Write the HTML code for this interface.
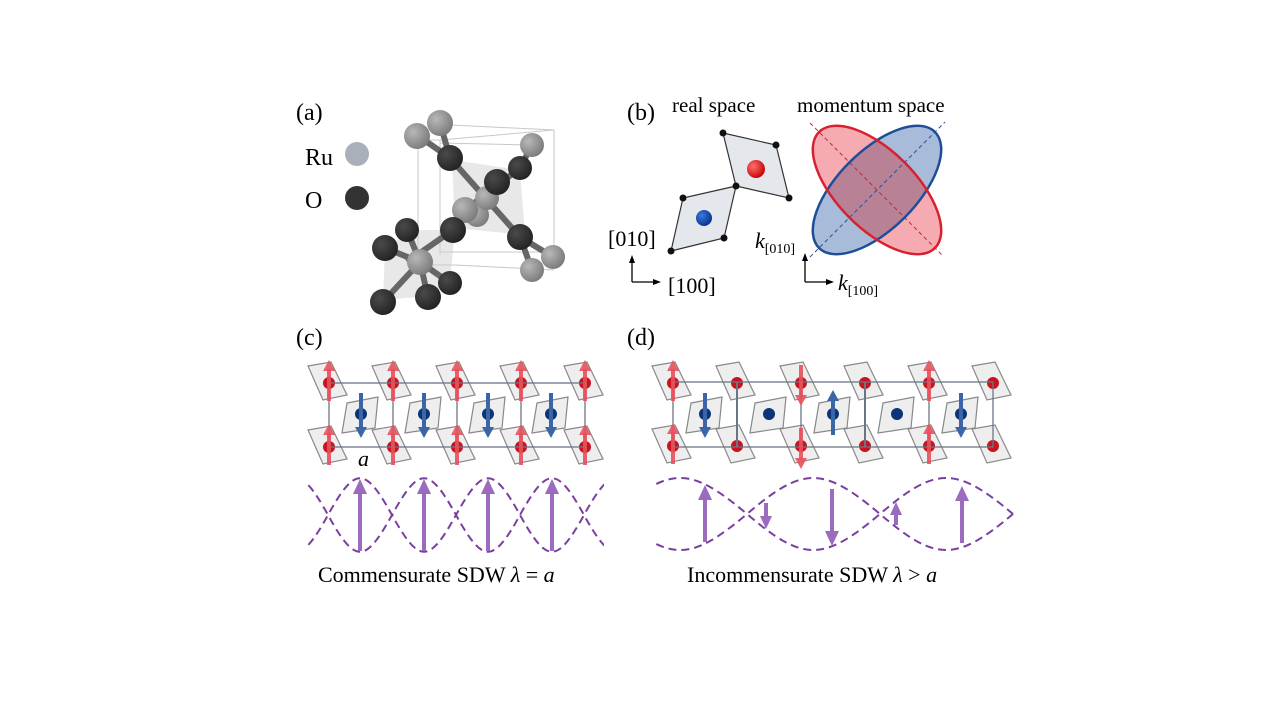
<!DOCTYPE html>
<html><head><meta charset="utf-8"><style>
html,body{margin:0;padding:0;background:#fff;}
svg{display:block;font-family:"Liberation Serif",serif;}
</style></head><body>
<svg width="1280" height="720" viewBox="0 0 1280 720" xmlns="http://www.w3.org/2000/svg">
<defs>
<radialGradient id="gg" cx="0.35" cy="0.35" r="0.7"><stop offset="0" stop-color="#b8b8b8"/><stop offset="1" stop-color="#7a7a7a"/></radialGradient>
<radialGradient id="gd" cx="0.35" cy="0.35" r="0.7"><stop offset="0" stop-color="#4a4a4a"/><stop offset="1" stop-color="#222"/></radialGradient>
<radialGradient id="gr" cx="0.35" cy="0.35" r="0.7"><stop offset="0" stop-color="#ff7070"/><stop offset="1" stop-color="#c80000"/></radialGradient>
<radialGradient id="gb" cx="0.35" cy="0.35" r="0.7"><stop offset="0" stop-color="#3a7adf"/><stop offset="1" stop-color="#08318a"/></radialGradient>
<g id="rc"><polygon points="-21,-17 2,-21 18,12 -6,17" fill="#eeeeee" stroke="#888" stroke-width="1.2"/><circle r="6" fill="#c8141e"/></g>
<g id="bc"><polygon points="-14,-11 17,-17 14,14 -19,19" fill="#eeeeee" stroke="#888" stroke-width="1.2"/><circle r="6" fill="#0c3478"/></g>
<g id="ru"><line x1="0" y1="18" x2="0" y2="-14" stroke="#e8505b" stroke-width="4" opacity="0.9"/><polygon points="-6,-12 6,-12 0,-23" fill="#e8505b" opacity="0.9"/></g>
<g id="rd"><line x1="0" y1="-18" x2="0" y2="14" stroke="#e8505b" stroke-width="4" opacity="0.9"/><polygon points="-6,12 6,12 0,23" fill="#e8505b" opacity="0.9"/></g>
<g id="bd"><line x1="0" y1="-21" x2="0" y2="15" stroke="#3a66a8" stroke-width="4"/><polygon points="-6,13 6,13 0,24" fill="#3a66a8"/></g>
<g id="bu"><line x1="0" y1="21" x2="0" y2="-15" stroke="#3a66a8" stroke-width="4"/><polygon points="-6,-13 6,-13 0,-24" fill="#3a66a8"/></g>
<clipPath id="cc"><rect x="306" y="460" width="298" height="100"/></clipPath>
<clipPath id="cd"><rect x="654" y="460" width="360" height="100"/></clipPath>
<clipPath id="cb" clipPathUnits="userSpaceOnUse"><ellipse cx="877" cy="190" rx="82" ry="39" transform="rotate(-45 877 190)"/></clipPath>
</defs>

<!-- labels -->
<g font-size="24" fill="#000">
<text x="296" y="120">(a)</text>
<text x="627" y="120">(b)</text>
<text x="296" y="345">(c)</text>
<text x="627" y="345">(d)</text>
<text x="305" y="165">Ru</text>
<text x="305" y="208">O</text>
</g>
<circle cx="357" cy="154" r="12" fill="#a9b0b9"/>
<circle cx="357" cy="198" r="12" fill="#333"/>

<!-- (a) crystal -->
<g stroke="#c8c8c8" stroke-width="1" fill="none">
<polyline points="450,125 554,130 554,252"/>
<polyline points="418,140 440,140 440,255"/>
<line x1="418" y1="140" x2="418" y2="268"/>
<line x1="440" y1="140" x2="554" y2="130"/>
<line x1="440" y1="143" x2="530" y2="145"/>
<line x1="440" y1="252" x2="554" y2="252"/>
<line x1="455" y1="265" x2="554" y2="270"/>
<line x1="418" y1="265" x2="455" y2="265"/>
</g>
<polygon points="452,160 520,170 525,235 455,228" fill="#ccc" opacity="0.45"/>
<polygon points="385,250 410,230 455,230 450,282 428,296 383,300" fill="#ccc" opacity="0.45"/>
<g stroke="#666" stroke-width="6">
<line x1="450" y1="158" x2="520" y2="237"/><line x1="520" y1="168" x2="465" y2="210"/>
<line x1="453" y1="230" x2="407" y2="262"/><line x1="420" y1="262" x2="385" y2="248"/>
<line x1="420" y1="262" x2="450" y2="283"/><line x1="420" y1="262" x2="428" y2="297"/>
<line x1="420" y1="262" x2="383" y2="302"/><line x1="420" y1="262" x2="407" y2="230"/>
<line x1="440" y1="123" x2="450" y2="158"/><line x1="417" y1="135" x2="450" y2="158"/>
<line x1="532" y1="145" x2="520" y2="168"/><line x1="520" y1="237" x2="553" y2="257"/><line x1="520" y1="237" x2="532" y2="270"/>
</g>
<g>
<circle cx="440" cy="123" r="13" fill="url(#gg)"/>
<circle cx="417" cy="136" r="13" fill="url(#gg)"/>
<circle cx="532" cy="145" r="12" fill="url(#gg)"/>
<circle cx="450" cy="158" r="13" fill="url(#gd)"/>
<circle cx="520" cy="168" r="12" fill="url(#gd)"/>
<circle cx="477" cy="215" r="12" fill="url(#gg)"/>
<circle cx="487" cy="198" r="12" fill="url(#gg)"/>
<circle cx="497" cy="182" r="13" fill="url(#gd)"/>
<circle cx="465" cy="210" r="13" fill="url(#gg)"/>
<circle cx="407" cy="230" r="12" fill="url(#gd)"/>
<circle cx="453" cy="230" r="13" fill="url(#gd)"/>
<circle cx="385" cy="248" r="13" fill="url(#gd)"/>
<circle cx="520" cy="237" r="13" fill="url(#gd)"/>
<circle cx="420" cy="262" r="13" fill="url(#gg)"/>
<circle cx="553" cy="257" r="12" fill="url(#gg)"/>
<circle cx="532" cy="270" r="12" fill="url(#gg)"/>
<circle cx="450" cy="283" r="12" fill="url(#gd)"/>
<circle cx="428" cy="297" r="13" fill="url(#gd)"/>
<circle cx="383" cy="302" r="13" fill="url(#gd)"/>
</g>

<!-- (b) -->
<text x="672" y="112" font-size="21">real space</text>
<text x="797" y="112" font-size="21">momentum space</text>
<polygon points="723,133 776,145 789,198 736,186" fill="#e4e7ec" stroke="#333" stroke-width="1.2"/>
<polygon points="736,186 683,198 671,251 724,238" fill="#e4e7ec" stroke="#333" stroke-width="1.2"/>
<g fill="#111"><circle cx="723" cy="133" r="3.5"/><circle cx="776" cy="145" r="3.5"/><circle cx="789" cy="198" r="3.5"/><circle cx="736" cy="186" r="3.5"/><circle cx="683" cy="198" r="3.5"/><circle cx="671" cy="251" r="3.5"/><circle cx="724" cy="238" r="3.5"/></g>
<circle cx="756" cy="169" r="9" fill="url(#gr)"/>
<circle cx="704" cy="218" r="8" fill="url(#gb)"/>
<g stroke="#000" stroke-width="1.3" fill="#000">
<line x1="632" y1="282" x2="632" y2="262"/><polygon points="629,263 635,263 632,255" stroke="none"/>
<line x1="632" y1="282" x2="654" y2="282"/><polygon points="653,279 653,285 661,282" stroke="none"/>
<line x1="805" y1="282" x2="805" y2="260"/><polygon points="802,261 808,261 805,253" stroke="none"/>
<line x1="805" y1="282" x2="827" y2="282"/><polygon points="826,279 826,285 834,282" stroke="none"/>
</g>
<text x="608" y="246" font-size="22">[010]</text>
<text x="668" y="293" font-size="22">[100]</text>
<text x="755" y="248" font-size="22" font-style="italic">k<tspan font-size="14" font-style="normal" dy="5">[010]</tspan></text>
<text x="838" y="290" font-size="22" font-style="italic">k<tspan font-size="14" font-style="normal" dy="5">[100]</tspan></text>
<ellipse cx="877" cy="190" rx="82" ry="39" transform="rotate(-45 877 190)" fill="#a8bbd9"/>
<ellipse cx="877" cy="190" rx="82" ry="39" transform="rotate(45 877 190)" fill="#f6abb3"/>
<g clip-path="url(#cb)">
<ellipse cx="877" cy="190" rx="82" ry="39" transform="rotate(45 877 190)" fill="#b98196"/>
</g>
<line x1="810" y1="257" x2="945" y2="122" stroke="#2a4f95" stroke-width="1" stroke-dasharray="4,3"/>
<line x1="810" y1="123" x2="942" y2="255" stroke="#d02030" stroke-width="1" stroke-dasharray="4,3"/>
<ellipse cx="877" cy="190" rx="82" ry="39" transform="rotate(-45 877 190)" fill="none" stroke="#1f4e99" stroke-width="2.5"/>
<ellipse cx="877" cy="190" rx="82" ry="39" transform="rotate(45 877 190)" fill="none" stroke="#d9202e" stroke-width="2.5"/>

<!-- (c) lattice -->
<g>
<use href="#bc" x="361" y="414"/><use href="#bc" x="424" y="414"/><use href="#bc" x="488" y="414"/><use href="#bc" x="551" y="414"/>
<use href="#rc" x="329" y="383"/><use href="#rc" x="393" y="383"/><use href="#rc" x="457" y="383"/><use href="#rc" x="521" y="383"/><use href="#rc" x="585" y="383"/>
<use href="#rc" x="329" y="447"/><use href="#rc" x="393" y="447"/><use href="#rc" x="457" y="447"/><use href="#rc" x="521" y="447"/><use href="#rc" x="585" y="447"/>
</g>
<g stroke="#6a7585" stroke-width="1.3" fill="none">
<rect x="329" y="383" width="256" height="64"/>
<line x1="393" y1="383" x2="393" y2="447"/><line x1="457" y1="383" x2="457" y2="447"/><line x1="521" y1="383" x2="521" y2="447"/>
</g>
<g>
<use href="#ru" x="329" y="383"/><use href="#ru" x="393" y="383"/><use href="#ru" x="457" y="383"/><use href="#ru" x="521" y="383"/><use href="#ru" x="585" y="383"/>
<use href="#ru" x="329" y="447"/><use href="#ru" x="393" y="447"/><use href="#ru" x="457" y="447"/><use href="#ru" x="521" y="447"/><use href="#ru" x="585" y="447"/>
<use href="#bd" x="361" y="414"/><use href="#bd" x="424" y="414"/><use href="#bd" x="488" y="414"/><use href="#bd" x="551" y="414"/>
</g>
<text x="358" y="466" font-size="22" font-style="italic">a</text>

<!-- (c) wave -->
<g clip-path="url(#cc)" fill="none" stroke="#7a3fa0" stroke-width="2" stroke-dasharray="8,5">
<path d="M264,515 C291,564 301,564 328,515 C355,466 365,466 392,515 C419,564 429,564 456,515 C483,466 493,466 520,515 C547,564 557,564 584,515 C611,466 621,466 648,515"/>
<path d="M264,515 C291,466 301,466 328,515 C355,564 365,564 392,515 C419,466 429,466 456,515 C483,564 493,564 520,515 C547,466 557,466 584,515 C611,564 621,564 648,515"/>
</g>
<g stroke="#9b6bc0" stroke-width="4" fill="#9b6bc0">
<line x1="360" y1="551" x2="360" y2="492"/><polygon points="353,494 367,494 360,479" stroke="none"/>
<line x1="424" y1="551" x2="424" y2="492"/><polygon points="417,494 431,494 424,479" stroke="none"/>
<line x1="488" y1="551" x2="488" y2="492"/><polygon points="481,494 495,494 488,479" stroke="none"/>
<line x1="552" y1="551" x2="552" y2="492"/><polygon points="545,494 559,494 552,479" stroke="none"/>
</g>
<text x="318" y="582" font-size="22">Commensurate SDW  <tspan font-style="italic">λ</tspan> = <tspan font-style="italic">a</tspan></text>

<!-- (d) lattice -->
<g>
<use href="#bc" x="705" y="414"/><use href="#bc" x="769" y="414"/><use href="#bc" x="833" y="414"/><use href="#bc" x="897" y="414"/><use href="#bc" x="961" y="414"/>
<use href="#rc" x="673" y="383"/><use href="#rc" x="737" y="383"/><use href="#rc" x="801" y="383"/><use href="#rc" x="865" y="383"/><use href="#rc" x="929" y="383"/><use href="#rc" x="993" y="383"/>
<use href="#rc" x="673" y="446"/><use href="#rc" x="737" y="446"/><use href="#rc" x="801" y="446"/><use href="#rc" x="865" y="446"/><use href="#rc" x="929" y="446"/><use href="#rc" x="993" y="446"/>
</g>
<g stroke="#6a7585" stroke-width="1.3" fill="none">
<rect x="673" y="382" width="320" height="65"/>
<line x1="737" y1="382" x2="737" y2="447" stroke-width="2"/><line x1="801" y1="382" x2="801" y2="447"/><line x1="865" y1="382" x2="865" y2="447" stroke-width="2"/><line x1="929" y1="382" x2="929" y2="447"/>
</g>
<g>
<use href="#ru" x="673" y="383"/><use href="#ru" x="673" y="446"/>
<use href="#rd" x="801" y="383"/><use href="#rd" x="801" y="446"/>
<use href="#ru" x="929" y="383"/><use href="#ru" x="929" y="446"/>
<use href="#bd" x="705" y="414"/><use href="#bu" x="833" y="414"/><use href="#bd" x="961" y="414"/>
</g>

<!-- (d) wave -->
<g clip-path="url(#cd)" fill="none" stroke="#7a3fa0" stroke-width="2" stroke-dasharray="8,5">
<path d="M614,514 C670,466 690,466 747,514 C803,562 823,562 880,514 C936,466 956,466 1013,514"/>
<path d="M614,514 C670,562 690,562 747,514 C803,466 823,466 880,514 C936,562 956,562 1013,514"/>
</g>
<g stroke="#9b6bc0" stroke-width="4" fill="#9b6bc0">
<line x1="705" y1="542" x2="705" y2="498"/><polygon points="698,500 712,500 705,485" stroke="none"/>
<line x1="766" y1="503" x2="766" y2="518"/><polygon points="760,516 772,516 766,529" stroke="none"/>
<line x1="832" y1="489" x2="832" y2="533"/><polygon points="825,531 839,531 832,546" stroke="none"/>
<line x1="896" y1="525" x2="896" y2="513"/><polygon points="890,515 902,515 896,502" stroke="none"/>
<line x1="962" y1="543" x2="962" y2="499"/><polygon points="955,501 969,501 962,486" stroke="none"/>
</g>
<text x="687" y="582" font-size="22">Incommensurate SDW   <tspan font-style="italic">λ</tspan> &gt; <tspan font-style="italic">a</tspan></text>
</svg>
</body></html>
